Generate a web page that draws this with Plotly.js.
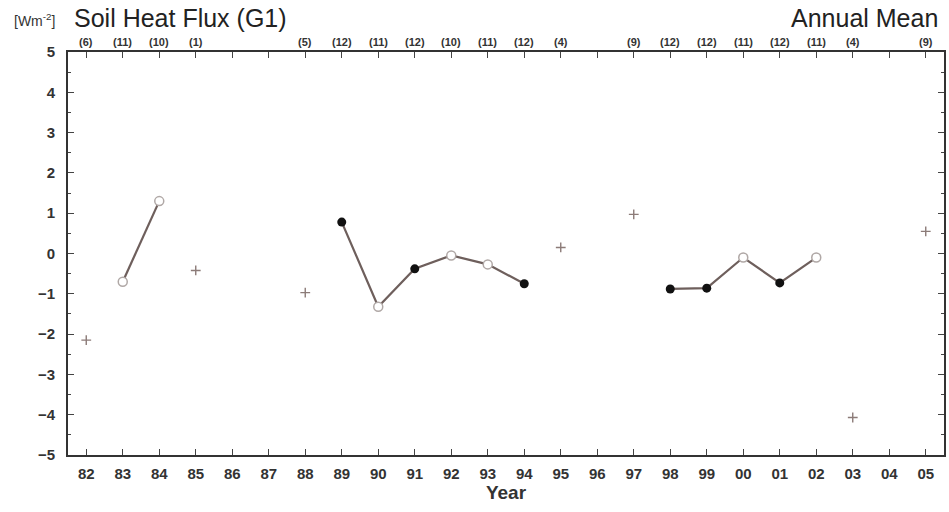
<!DOCTYPE html>
<html>
<head>
<meta charset="utf-8">
<script src="https://cdn.plot.ly/plotly-3.0.1.min.js"></script>
<style>
html,body{margin:0;padding:0;background:#fff;}
#chart{width:949px;height:512px;}
</style>
</head>
<body>
<div id="chart"></div>
<script>
// Data
var years = ["82","83","84","85","86","87","88","89","90","91","92","93","94","95","96","97","98","99","00","01","02","03","04","05"];
var annualMean = [-2.15,-0.7,1.3,-0.42,null,null,-0.97,0.78,-1.32,-0.38,-0.05,-0.27,-0.75,0.15,null,0.97,-0.88,-0.86,-0.1,-0.73,-0.1,-4.07,null,0.55];
var monthCount = [6,11,10,1,null,null,5,12,11,12,10,11,12,4,null,9,12,12,11,12,11,4,null,9];

function pick(cond){
  return annualMean.map(function(v,i){ return (v!==null && cond(monthCount[i])) ? v : null; });
}
var fullYear = pick(function(c){return c===12;});
var mostYear = pick(function(c){return c>=10 && c<12;});
var partYear = pick(function(c){return c<10;});
var lineVals = pick(function(c){return c>=10;});

var traces = [
  {x: years, y: lineVals, type:'scatter', mode:'lines', connectgaps:false,
   line:{color:'#6e5f5c', width:2.2}, hoverinfo:'skip', showlegend:false},
  {x: years, y: partYear, type:'scatter', mode:'markers',
   marker:{symbol:'cross-thin', size:7, color:'#8c7b78', line:{color:'#8c7b78', width:1.4}}, showlegend:false},
  {x: years, y: mostYear, type:'scatter', mode:'markers',
   marker:{symbol:'circle', size:9, color:'#ffffff', line:{color:'#b0a8a6', width:1.5}}, showlegend:false},
  {x: years, y: fullYear, type:'scatter', mode:'markers',
   marker:{symbol:'circle', size:9, color:'#111111', line:{color:'#111111', width:0}}, showlegend:false}
];

var FONT = 'Liberation Sans, Arial';
var annotations = [
  {xref:'paper', yref:'paper', x:-0.064, y:1.0, yshift:32, xanchor:'left', yanchor:'middle',
   text:'[Wm<sup>-2</sup>]', showarrow:false, font:{size:14, color:'#333', family:FONT}},
  {xref:'paper', yref:'paper', x:0.004, y:1.0, yshift:34, xanchor:'left', yanchor:'middle',
   text:'Soil Heat Flux (G1)', showarrow:false, font:{size:25, color:'#222', family:FONT}},
  {xref:'paper', yref:'paper', x:0.996, y:1.0, yshift:34, xanchor:'right', yanchor:'middle',
   text:'Annual Mean', showarrow:false, font:{size:25, color:'#222', family:FONT}}
];
years.forEach(function(yr,i){
  if(monthCount[i]!==null){
    annotations.push({xref:'x', yref:'paper', x:i, y:1.0, yshift:10, yanchor:'middle',
      text:'('+monthCount[i]+')', showarrow:false,
      font:{size:11, color:'#333', family:FONT, weight:'bold'}});
  }
});

var layout = {
  width:949, height:512,
  margin:{l:68, r:5, t:52, b:57},
  paper_bgcolor:'#ffffff', plot_bgcolor:'#ffffff',
  font:{family:FONT, color:'#333'},
  xaxis:{type:'category', range:[-0.5,23.5], showgrid:false, zeroline:false,
    showline:true, linecolor:'#333', linewidth:2, mirror:'ticks',
    ticks:'inside', ticklen:6, tickwidth:1, tickcolor:'#444',
    ticklabelstandoff:4,
    tickfont:{size:15, color:'#333', weight:'bold'},
    title:{text:'Year', font:{size:19, color:'#333', weight:'bold'}, standoff:2}},
  yaxis:{range:[-5,5], dtick:1, tick0:0, showgrid:false, zeroline:false,
    showline:true, linecolor:'#333', linewidth:2, mirror:'ticks',
    ticks:'inside', ticklen:6, tickwidth:1, tickcolor:'#444',
    ticklabelstandoff:8,
    tickfont:{size:15, color:'#333', weight:'bold'},
    minor:{dtick:0.5, ticks:'inside', ticklen:3, tickcolor:'#444', showgrid:false}},
  annotations: annotations,
  showlegend:false
};

Plotly.newPlot('chart', traces, layout, {displayModeBar:false, staticPlot:true});
</script>
</body>
</html>
